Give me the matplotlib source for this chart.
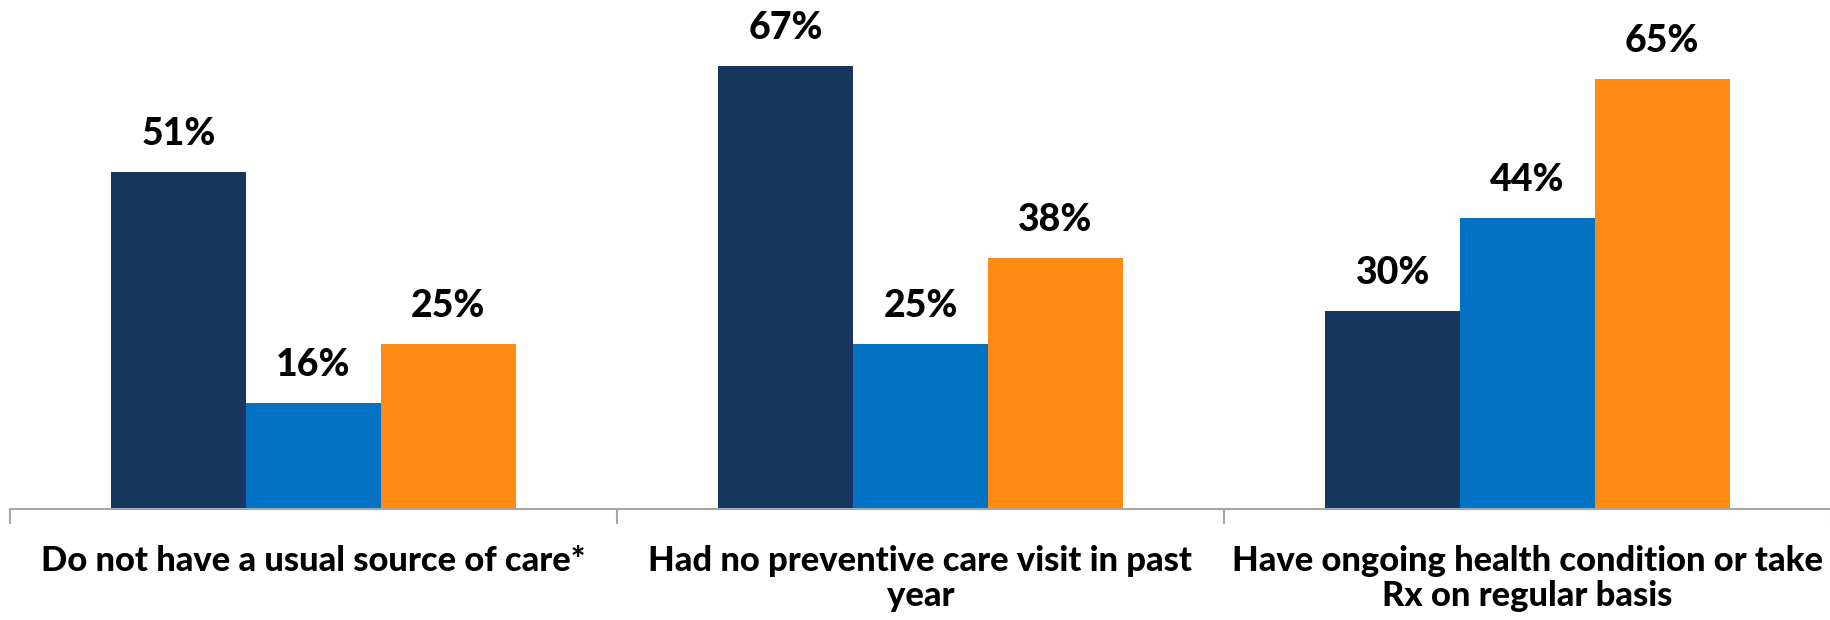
import numpy as np
import matplotlib.pyplot as plt

# Categorias e valores (%)
categorias = ["Do not have a usual source of care*",
              "Had no preventive care visit in past\nyear",
              "Have ongoing health condition or take\nRx on regular basis"]
serie1 = [51, 67, 30]
serie2 = [16, 25, 44]
serie3 = [25, 38, 65]

cores = ["#17365D", "#0472C4", "#FF8A14"]

plt.rcParams['font.family'] = ['Lato', 'DejaVu Sans']

fig = plt.figure(figsize=(18.31, 6.2), dpi=100)
ax = fig.add_axes([10 / 1831, 111 / 620, 1821 / 1831, 509 / 620])

x = np.arange(len(categorias))
largura = 0.222

for k, (vals, cor) in enumerate(zip([serie1, serie2, serie3], cores)):
    pos = x + (k - 1) * largura
    ax.bar(pos, vals, width=largura, color=cor, zorder=2)
    for p, v in zip(pos, vals):
        ax.annotate("%d%%" % v, (p, v), xytext=(0, 15), textcoords="offset points",
                    ha="center", va="bottom", fontsize=27, fontweight="black")

ax.set_xlim(-0.5, 2.5)
ax.set_ylim(0, 77)

for s in ["top", "right", "left"]:
    ax.spines[s].set_visible(False)
ax.spines["bottom"].set_color("#A6A6A6")
ax.spines["bottom"].set_linewidth(1.5)
ax.set_yticks([])

ax.set_xticks(x)
ax.set_xticklabels(categorias, fontsize=24.8, fontweight="black", linespacing=1.12)
ax.tick_params(axis="x", which="major", length=0, pad=26)
ax.set_xticks([-0.5, 0.5, 1.5, 2.5], minor=True)
ax.tick_params(axis="x", which="minor", length=11, width=1.5, color="#A6A6A6")

fig.savefig("out.png", dpi=100)
